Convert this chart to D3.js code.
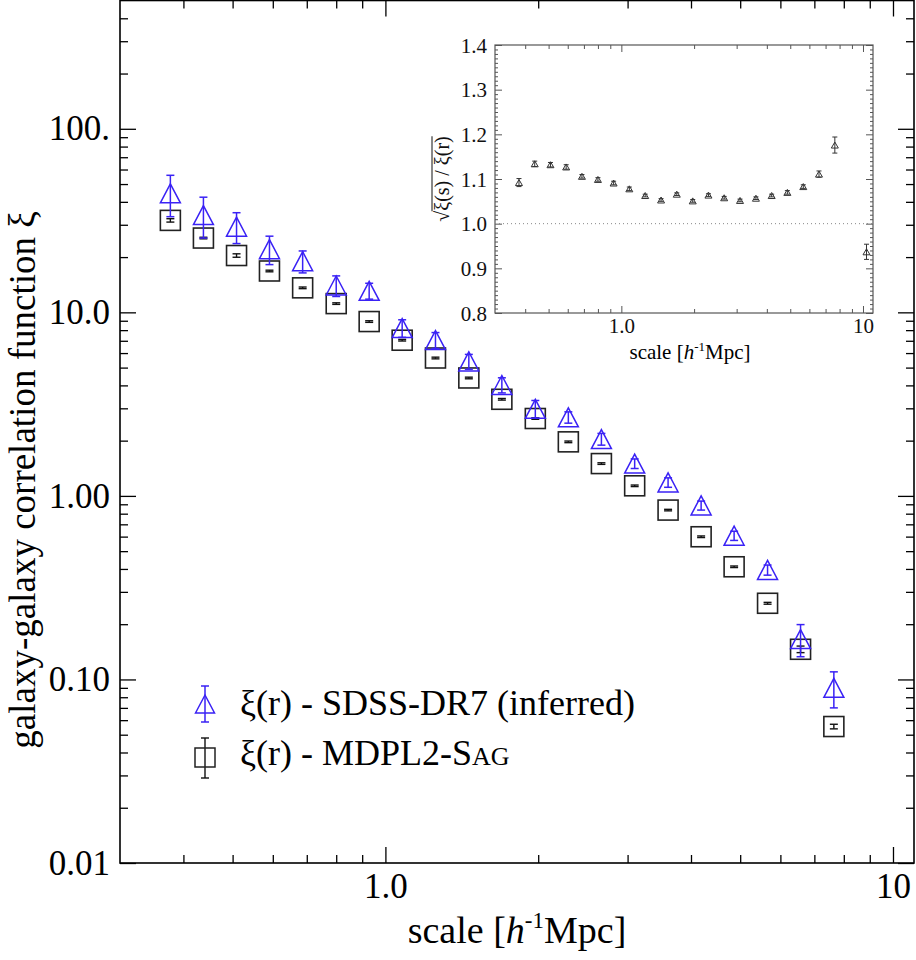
<!DOCTYPE html>
<html>
<head>
<meta charset="utf-8">
<script src="https://cdn.jsdelivr.net/npm/d3@7"></script>
<style>
  body { margin: 0; background: #fff; }
  text { font-family: "Liberation Serif", "Times New Roman", serif; }
</style>
</head>
<body>
<div id="chart"></div>
<script>
// separation bins [h^-1 Mpc]
var scaleMpc = [0.377, 0.438, 0.509, 0.591, 0.687, 0.800, 0.929, 1.079, 1.255, 1.460, 1.696,
                1.974, 2.293, 2.664, 3.098, 3.605, 4.188, 4.864, 5.661, 6.575, 7.647];
// xi(r) SDSS-DR7 (inferred)
var sdssXi  = [44.5, 33.9, 29.3, 22.1, 19.0, 14.0, 13.1, 8.21, 7.06, 5.40, 4.02,
               2.98, 2.68, 2.04, 1.50, 1.184, 0.887, 0.607, 0.395, 0.166, 0.090];
var sdssErr = [11.3, 8.5, 5.6, 3.9, 2.6, 1.8, 1.3, 0.9, 0.7, 0.5, 0.38,
               0.33, 0.19, 0.15, 0.09, 0.07, 0.05, 0.035, 0.025, 0.033, 0.020];
// xi(r) MDPL2-SAG
var sagXi  = [31.7, 25.4, 20.4, 16.8, 13.6, 11.16, 8.91, 7.05, 5.64, 4.39, 3.36,
              2.64, 1.97, 1.50, 1.135, 0.837, 0.599, 0.411, 0.260, 0.146, 0.0554];
var sagErr = [0.67, 0.25, 0.44, 0.17, 0.14, 0.11, 0.09, 0.07, 0.06, 0.045, 0.034,
              0.026, 0.02, 0.015, 0.011, 0.008, 0.006, 0.004, 0.003, 0.006, 0.0016];
// inset: sqrt(xi(s)/xi(r))
var ratioScale = [0.377, 0.438, 0.509, 0.591, 0.687, 0.800, 0.929, 1.079, 1.255, 1.460, 1.696,
                  1.974, 2.293, 2.664, 3.098, 3.605, 4.188, 4.864, 5.661, 6.575, 7.647, 10.34];
var ratio    = [1.092, 1.134, 1.132, 1.127, 1.106, 1.099, 1.091, 1.078, 1.063, 1.053, 1.066,
                1.051, 1.064, 1.058, 1.052, 1.057, 1.063, 1.070, 1.083, 1.111, 1.176, 0.937];
var ratioErr = [0.009, 0.006, 0.005, 0.005, 0.004, 0.004, 0.004, 0.004, 0.003, 0.003, 0.003,
                0.003, 0.003, 0.003, 0.003, 0.003, 0.003, 0.004, 0.004, 0.007, 0.018, 0.017];

var xTicks = [1, 10], xTickLabels = ["1.0", "10"];
var yTicks = [0.01, 0.1, 1, 10, 100], yTickLabels = ["0.01", "0.10", "1.00", "10.0", "100."];
var insetYTicks = [0.8, 0.9, 1.0, 1.1, 1.2, 1.3, 1.4];

var width = 916, height = 960;
var blue = "#3a22f5";

var svg = d3.select("#chart").append("svg")
  .attr("width", width).attr("height", height);

// ---------- main panel ----------
var L = 120, R = 914, T = 0.5, B = 863;
var x = d3.scaleLog().domain([0.3, 11]).range([L, R]);
var y = d3.scaleLog().domain([0.01, 500]).range([B, T]);

var xMinor = [0.4, 0.5, 0.6, 0.7, 0.8, 0.9, 2, 3, 4, 5, 6, 7, 8, 9];
var yMinor = [];
[0.01, 0.1, 1, 10, 100].forEach(function (d) {
  for (var k = 2; k <= 9; k++) if (d * k < 500) yMinor.push(d * k);
});

function tickAxis(axis, g) {
  g.call(axis);
  g.select(".domain").remove();
  g.selectAll("line").attr("stroke", "#000").attr("stroke-width", 1.3);
  return g;
}

var fx = function (i) { return xTickLabels[xTicks.indexOf(i)]; };
var fy = function (i) { return yTickLabels[yTicks.indexOf(i)]; };

var gb = tickAxis(d3.axisBottom(x).tickValues(xTicks).tickSize(-16).tickSizeOuter(0).tickFormat(fx),
  svg.append("g").attr("transform", "translate(0," + B + ")"));
gb.selectAll("text").attr("y", 35).attr("dy", 0).attr("font-size", 35)
  .attr("fill", "#000").style("font-family", "Liberation Serif");
tickAxis(d3.axisBottom(x).tickValues(xMinor).tickSize(-8).tickFormat(""),
  svg.append("g").attr("transform", "translate(0," + B + ")"));
tickAxis(d3.axisTop(x).tickValues(xTicks).tickSize(-16).tickFormat(""),
  svg.append("g").attr("transform", "translate(0," + T + ")"));
tickAxis(d3.axisTop(x).tickValues(xMinor).tickSize(-8).tickFormat(""),
  svg.append("g").attr("transform", "translate(0," + T + ")"));

var gl = tickAxis(d3.axisLeft(y).tickValues(yTicks).tickSize(-16).tickSizeOuter(0).tickFormat(fy),
  svg.append("g").attr("transform", "translate(" + L + ",0)"));
gl.selectAll("text").attr("x", -10).attr("dy", "0.32em").attr("font-size", 35)
  .attr("fill", "#000").style("font-family", "Liberation Serif");
tickAxis(d3.axisLeft(y).tickValues(yMinor).tickSize(-8).tickFormat(""),
  svg.append("g").attr("transform", "translate(" + L + ",0)"));
tickAxis(d3.axisRight(y).tickValues(yTicks).tickSize(-16).tickFormat(""),
  svg.append("g").attr("transform", "translate(" + R + ",0)"));
tickAxis(d3.axisRight(y).tickValues(yMinor).tickSize(-8).tickFormat(""),
  svg.append("g").attr("transform", "translate(" + R + ",0)"));

svg.append("rect").attr("x", L).attr("y", T).attr("width", R - L).attr("height", B - T)
  .attr("fill", "none").attr("stroke", "#000").attr("stroke-width", 1.6);

// axis titles
var xt = svg.append("text").attr("x", (L + R) / 2).attr("y", 943)
  .attr("text-anchor", "middle").attr("font-size", 38);
xt.append("tspan").text("scale [");
xt.append("tspan").attr("font-style", "italic").text("h");
xt.append("tspan").attr("font-size", 23).attr("dy", -15).text("-1");
xt.append("tspan").attr("dy", 15).text("Mpc]");

svg.append("text").attr("transform", "translate(35,480) rotate(-90)")
  .attr("text-anchor", "middle").attr("font-size", 37)
  .text("galaxy-galaxy correlation function \u03be");

// error bars helper
function errorBars(g, xs, vs, es, sx, sy, cap, color, sw) {
  var eb = g.append("g").attr("stroke", color).attr("stroke-width", sw).attr("fill", "none");
  xs.forEach(function (xv, i) {
    var cx = sx(xv), y1 = sy(vs[i] + es[i]), y2 = sy(vs[i] - es[i]);
    eb.append("line").attr("x1", cx).attr("x2", cx).attr("y1", y1).attr("y2", y2);
    eb.append("line").attr("x1", cx - cap).attr("x2", cx + cap).attr("y1", y1).attr("y2", y1);
    eb.append("line").attr("x1", cx - cap).attr("x2", cx + cap).attr("y1", y2).attr("y2", y2);
  });
}

function triPath(w, h) {
  return "M" + (-w / 2) + "," + (h / 2) + "L0," + (-h / 2) + "L" + (w / 2) + "," + (h / 2) + "Z";
}

var pts = svg.append("g");
// MDPL2-SAG squares
pts.selectAll("rect.sag").data(scaleMpc).enter().append("rect")
  .attr("x", function (d) { return x(d) - 10; })
  .attr("y", function (d, i) { return y(sagXi[i]) - 10; })
  .attr("width", 20).attr("height", 20)
  .attr("fill", "none").attr("stroke", "#222").attr("stroke-width", 1.6);
errorBars(pts, scaleMpc, sagXi, sagErr, x, y, 4, "#111", 1.4);

// SDSS triangles
pts.selectAll("path.sdss").data(scaleMpc).enter().append("path")
  .attr("transform", function (d, i) { return "translate(" + x(d) + "," + y(sdssXi[i]) + ")"; })
  .attr("d", triPath(20, 19))
  .attr("fill", "none").attr("stroke", blue).attr("stroke-width", 1.5);
errorBars(pts, scaleMpc, sdssXi, sdssErr, x, y, 4, blue, 1.5);

// legend
var lg = svg.append("g");
lg.append("line").attr("x1", 205).attr("x2", 205).attr("y1", 686).attr("y2", 722).attr("stroke", blue).attr("stroke-width", 1.5);
lg.append("line").attr("x1", 201).attr("x2", 209).attr("y1", 686).attr("y2", 686).attr("stroke", blue).attr("stroke-width", 1.5);
lg.append("line").attr("x1", 201).attr("x2", 209).attr("y1", 722).attr("y2", 722).attr("stroke", blue).attr("stroke-width", 1.5);
lg.append("path").attr("transform", "translate(205,704)").attr("d", triPath(19, 18))
  .attr("fill", "none").attr("stroke", blue).attr("stroke-width", 1.5);
lg.append("text").attr("x", 240).attr("y", 715).attr("font-size", 36)
  .text("\u03be(r) - SDSS-DR7 (inferred)");

lg.append("line").attr("x1", 205).attr("x2", 205).attr("y1", 738).attr("y2", 778).attr("stroke", "#111").attr("stroke-width", 1.4);
lg.append("line").attr("x1", 201).attr("x2", 209).attr("y1", 738).attr("y2", 738).attr("stroke", "#111").attr("stroke-width", 1.4);
lg.append("line").attr("x1", 201).attr("x2", 209).attr("y1", 778).attr("y2", 778).attr("stroke", "#111").attr("stroke-width", 1.4);
lg.append("rect").attr("x", 195).attr("y", 748).attr("width", 20).attr("height", 19)
  .attr("fill", "none").attr("stroke", "#222").attr("stroke-width", 1.5);
var lt = lg.append("text").attr("x", 240).attr("y", 765).attr("font-size", 36);
lt.append("tspan").text("\u03be(r) - MDPL2-S");
lt.append("tspan").attr("font-size", 26).text("AG");

// ---------- inset ----------
var iL = 495, iR = 873, iT = 45, iB = 313;
var ix = d3.scaleLog().domain([0.3, 11]).range([iL, iR]);
var iy = d3.scaleLinear().domain([0.8, 1.4]).range([iB, iT]);
var iyMinor = d3.range(80, 141).filter(function (v) { return v % 10 !== 0; }).map(function (v) { return v / 100; });
var ig = svg.append("g");
var igrey = "#555";

function insetAxis(axis, tr) {
  var g = ig.append("g").attr("transform", tr).call(axis);
  g.select(".domain").remove();
  g.selectAll("line").attr("stroke", igrey).attr("stroke-width", 1);
  return g;
}
var ibx = insetAxis(d3.axisBottom(ix).tickValues(xTicks).tickSize(-7).tickFormat(fx), "translate(0," + iB + ")");
ibx.selectAll("text").attr("y", 20).attr("dy", 0).attr("font-size", 21).attr("fill", "#111")
  .style("font-family", "Liberation Serif");
insetAxis(d3.axisBottom(ix).tickValues(xMinor).tickSize(-4).tickFormat(""), "translate(0," + iB + ")");
insetAxis(d3.axisTop(ix).tickValues(xTicks).tickSize(-7).tickFormat(""), "translate(0," + iT + ")");
insetAxis(d3.axisTop(ix).tickValues(xMinor).tickSize(-4).tickFormat(""), "translate(0," + iT + ")");
var ily = insetAxis(d3.axisLeft(iy).tickValues(insetYTicks).tickSize(-7).tickFormat(d3.format(".1f")), "translate(" + iL + ",0)");
ily.selectAll("text").attr("x", -8).attr("dy", "0.34em").attr("font-size", 21).attr("fill", "#111")
  .style("font-family", "Liberation Serif");
insetAxis(d3.axisLeft(iy).tickValues(iyMinor).tickSize(-3).tickFormat(""), "translate(" + iL + ",0)");
insetAxis(d3.axisRight(iy).tickValues(insetYTicks).tickSize(-7).tickFormat(""), "translate(" + iR + ",0)");
insetAxis(d3.axisRight(iy).tickValues(iyMinor).tickSize(-3).tickFormat(""), "translate(" + iR + ",0)");

ig.append("rect").attr("x", iL).attr("y", iT).attr("width", iR - iL).attr("height", iB - iT)
  .attr("fill", "none").attr("stroke", igrey).attr("stroke-width", 1.2);

ig.append("line").attr("x1", iL).attr("x2", iR).attr("y1", iy(1.0)).attr("y2", iy(1.0))
  .attr("stroke", "#888").attr("stroke-width", 1).attr("stroke-dasharray", "1,3");

errorBars(ig, ratioScale, ratio, ratioErr, ix, iy, 2.5, "#333", 1);
ig.selectAll("path.ratio").data(ratioScale).enter().append("path")
  .attr("transform", function (d, i) { return "translate(" + ix(d) + "," + iy(ratio[i]) + ")"; })
  .attr("d", triPath(7, 6))
  .attr("fill", "none").attr("stroke", "#333").attr("stroke-width", 1);

var ixt = ig.append("text").attr("x", 690).attr("y", 359)
  .attr("text-anchor", "middle").attr("font-size", 21);
ixt.append("tspan").text("scale [");
ixt.append("tspan").attr("font-style", "italic").text("h");
ixt.append("tspan").attr("font-size", 13).attr("dy", -8).text("-1");
ixt.append("tspan").attr("dy", 8).text("Mpc]");

var iyg = ig.append("g").attr("transform", "translate(449,179) rotate(-90)");
var iyt = iyg.append("text").attr("text-anchor", "middle").attr("font-size", 20).attr("fill", "#111")
  .text("\u221a\u03be(s) / \u03be(r)");
var bb = iyt.node().getBBox();
var rootW = iyt.node().getSubStringLength(0, 1);
iyg.append("line").attr("x1", bb.x + rootW - 0.5).attr("x2", bb.x + bb.width)
  .attr("y1", -17).attr("y2", -17).attr("stroke", "#111").attr("stroke-width", 1);
</script>
</body>
</html>
